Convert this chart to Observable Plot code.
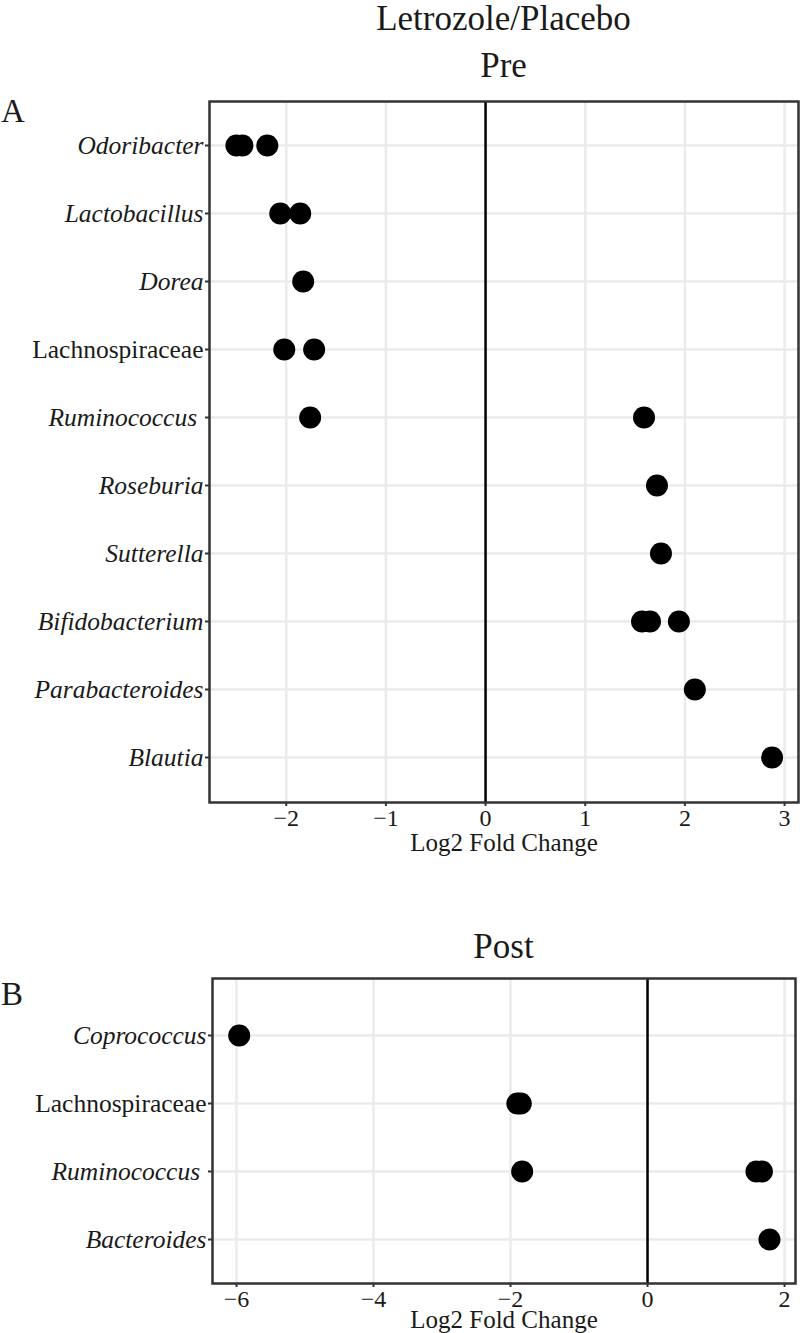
<!DOCTYPE html>
<html>
<head>
<meta charset="utf-8">
<script src="https://cdn.jsdelivr.net/npm/d3@7"></script>
<script src="https://cdn.jsdelivr.net/npm/@observablehq/plot@0.6"></script>
<style>
  body { margin: 0; background: #fff; }
  #page { position: relative; width: 800px; height: 1333px; overflow: hidden;
          font-family: "Liberation Serif", "Times New Roman", serif; color: #1a1a1a; }
  #heads { position: absolute; left: 0; top: 0; }
  .panel { position: absolute; left: 0; }
</style>
</head>
<body>
<div id="page">
  <svg id="heads" width="800" height="1333" font-family='"Liberation Serif", "Times New Roman", serif' fill="#1a1a1a">
    <text x="503.5" y="30" text-anchor="middle" font-size="35">Letrozole/Placebo</text>
    <text x="503.5" y="77" text-anchor="middle" font-size="35">Pre</text>
    <text x="1" y="122" font-size="33">A</text>
    <text x="503.5" y="958" text-anchor="middle" font-size="35">Post</text>
    <text x="1" y="1005" font-size="33">B</text>
  </svg>
  <div class="panel" id="pA" style="top:0px"></div>
  <div class="panel" id="pB" style="top:900px"></div>
</div>
<script>
// ---------- data ----------
const preTaxa = ["Odoribacter","Lactobacillus","Dorea","Lachnospiraceae","Ruminococcus",
                 "Roseburia","Sutterella","Bifidobacterium","Parabacteroides","Blautia"];
const prePointTaxon = ["Odoribacter","Odoribacter","Odoribacter","Lactobacillus","Lactobacillus",
                       "Dorea","Lachnospiraceae","Lachnospiraceae","Ruminococcus","Ruminococcus",
                       "Roseburia","Sutterella","Bifidobacterium","Bifidobacterium","Bifidobacterium",
                       "Parabacteroides","Blautia"];
const prePointLfc = [-2.50,-2.44,-2.19,-2.06,-1.86,
                     -1.83,-2.02,-1.72,-1.76,1.59,
                     1.72,1.76,1.57,1.65,1.94,
                     2.10,2.875];
const preTicks = [-2,-1,0,1,2,3];

const postTaxa = ["Coprococcus","Lachnospiraceae","Ruminococcus","Bacteroides"];
const postPointTaxon = ["Coprococcus","Lachnospiraceae","Lachnospiraceae","Ruminococcus",
                        "Ruminococcus","Ruminococcus","Bacteroides"];
const postPointLfc = [-5.96,-1.90,-1.85,-1.83,1.59,1.67,1.78];
const postTicks = [-6,-4,-2,0,2];

const nonItalic = ["Lachnospiraceae"];
const xTitle = "Log2 Fold Change";

// ---------- helpers ----------
function panel({taxa, pTaxon, pLfc, ticks, xDomain, yRange, width, height, mt, mb, ml, mr, titleDy}) {
  const pts = pTaxon.map((t, i) => ({taxon: t, lfc: pLfc[i]}));
  const italic = taxa.filter(t => !nonItalic.includes(t));
  const plain = taxa.filter(t => nonItalic.includes(t));
  const fmtY = t => t === "Ruminococcus" ? t + "\u00a0" : t;
  const fsY = 25.5, fsX = 24, fsT = 25;
  return Plot.plot({
    width, height,
    marginTop: mt, marginBottom: mb, marginLeft: ml, marginRight: mr,
    style: {fontFamily: '"Liberation Serif", "Times New Roman", serif', fontSize: "24px",
            color: "#1a1a1a", background: "transparent", overflow: "visible"},
    x: {domain: xDomain},
    y: {type: "point", domain: taxa, range: yRange, padding: 0},
    marks: [
      Plot.gridX(ticks, {stroke: "#ebebeb", strokeOpacity: 1, strokeWidth: 2.5}),
      Plot.gridY(taxa, {stroke: "#ebebeb", strokeOpacity: 1, strokeWidth: 2.5}),
      Plot.ruleX([0], {stroke: "#000", strokeWidth: 2.5}),
      Plot.dot(pts, {x: "lfc", y: "taxon", r: 11, fill: "#000", stroke: null}),
      Plot.frame({stroke: "#333", strokeWidth: 2.5}),
      Plot.axisX(ticks, {tickSize: 4, tickPadding: 2, label: null, stroke: "#333", strokeWidth: 2,
                         fill: "#1a1a1a", fontSize: fsX}),
      Plot.axisY(italic, {tickSize: 4, tickPadding: 2, label: null, stroke: "#333", strokeWidth: 2,
                          fill: "#1a1a1a", fontSize: fsY, fontStyle: "italic", tickFormat: fmtY}),
      Plot.axisY(plain, {tickSize: 4, tickPadding: 2, label: null, stroke: "#333", strokeWidth: 2,
                         fill: "#1a1a1a", fontSize: fsY}),
      Plot.text([xTitle], {frameAnchor: "bottom", lineAnchor: "middle", dy: titleDy, text: d => d,
                           fontSize: fsT, fill: "#1a1a1a"})
    ]
  });
}

document.getElementById("pA").append(panel({
  taxa: preTaxa, pTaxon: prePointTaxon, pLfc: prePointLfc, ticks: preTicks,
  xDomain: [-2.77, 3.14], yRange: [141.7, 761],
  width: 800, height: 870, mt: 101, mb: 68, ml: 209, mr: 2, titleDy: 40
}));

document.getElementById("pB").append(panel({
  taxa: postTaxa, pTaxon: postPointTaxon, pLfc: postPointLfc, ticks: postTicks,
  xDomain: [-6.35, 2.16], yRange: [134, 340.7],
  width: 800, height: 433, mt: 78, mb: 50, ml: 212, mr: 5, titleDy: 36
}));
</script>
</body>
</html>
